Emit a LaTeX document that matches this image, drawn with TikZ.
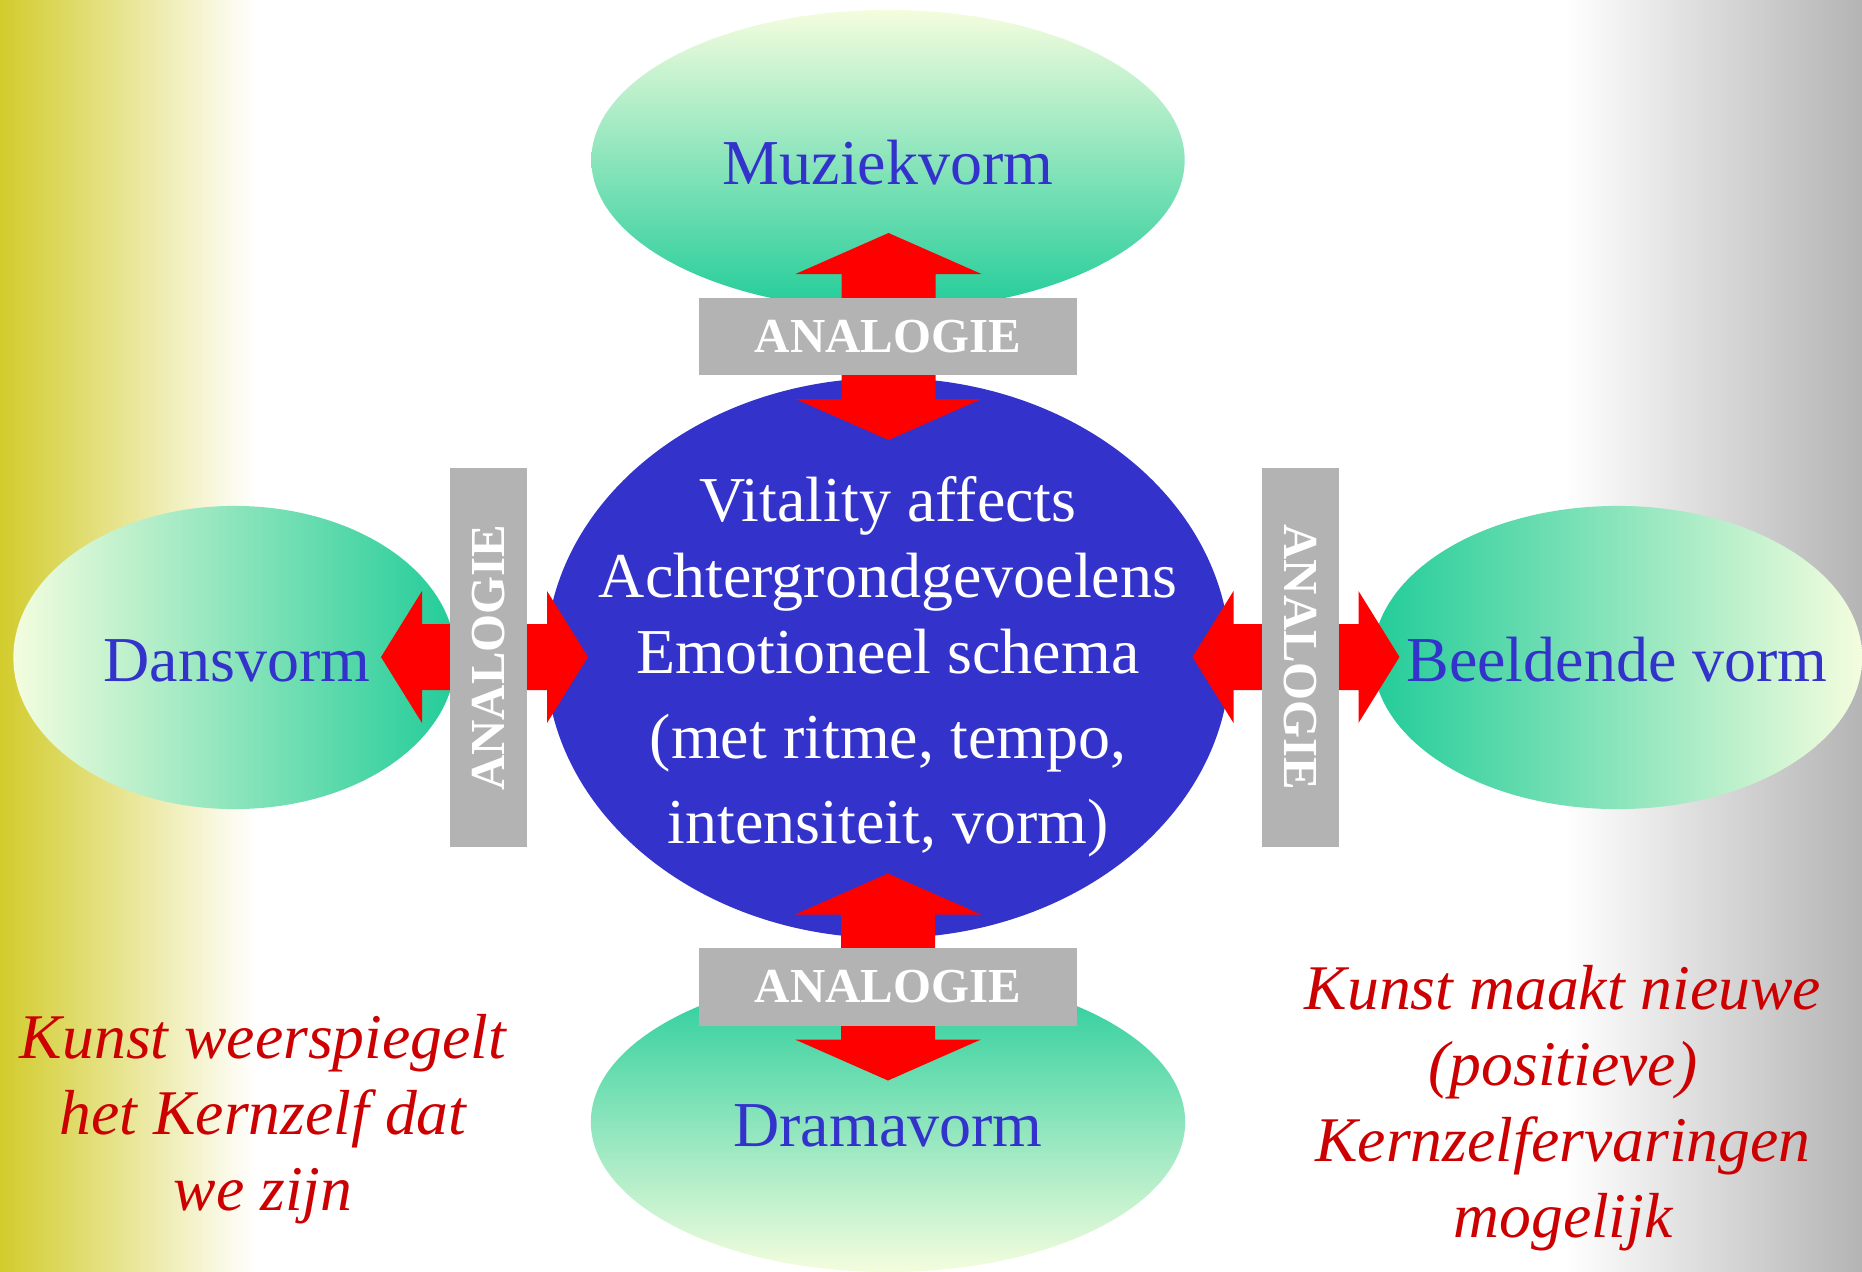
\documentclass[tikz,border=0pt]{standalone}
\usepackage{fontspec}
\setmainfont{Liberation Serif}
\usepackage{tikz}
\usetikzlibrary{shapes.geometric}
\usetikzlibrary{positioning}

\definecolor{kernblue}{RGB}{51,51,204}
\definecolor{vormgreen}{RGB}{34,204,153}
\definecolor{vormlight}{RGB}{244,253,222}
\definecolor{boxgray}{RGB}{179,179,179}
\definecolor{tekstred}{RGB}{204,0,0}
\definecolor{bgyellow}{RGB}{210,204,44}
\definecolor{bggray}{RGB}{180,180,180}

\begin{document}
\begin{tikzpicture}
		[
		x=0.01cm, y=-0.01cm,
		vorm/.style={ellipse, inner sep=0, draw=none},
		vorm text/.style={anchor=base, text=kernblue, font=\fontsize{18.2pt}{21.6pt}\selectfont},
		analogie/.style={fill=boxgray, inner sep=0, minimum width=3.78cm, minimum height=0.77cm, text=white, font=\fontsize{13.9pt}{16pt}\selectfont\bfseries},
		pijl/.style={fill=red},
		kunst text/.style={anchor=base, align=center, text=tekstred, font=\fontsize{18.1pt}{21.6pt}\selectfont\itshape}
		]
		
		% Page and side shading
		\useasboundingbox (0,0) rectangle (1862,1272);
		\shade[left color=bgyellow, middle color=bgyellow!35!white, right color=white] (0,0) rectangle (255,1272);
		\shade[left color=white, right color=bggray] (1565,0) rectangle (1862,1272);
		
		% The four art forms and the core
		\node[vorm, minimum width=5.93cm, minimum height=3cm, top color=vormlight, middle color=vormgreen!35!vormlight, bottom color=vormgreen] (muziek) at (888,160) {};
		\node[vorm, minimum width=4.42cm, minimum height=3.03cm, left color=vormlight, middle color=vormgreen!35!vormlight, right color=vormgreen] (dans) at (234.5,657.5) {};
		\node[vorm, minimum width=4.89cm, minimum height=3.03cm, left color=vormgreen, middle color=vormgreen!35!vormlight, right color=vormlight] (beeld) at (1617.5,657.5) {};
		\node[vorm, minimum width=5.94cm, minimum height=3cm, top color=vormgreen, middle color=vormgreen!35!vormlight, bottom color=vormlight] (drama) at (888,1122) {};
		\node[vorm, minimum width=6.84cm, minimum height=5.6cm, fill=kernblue] (kern) at (888,658) {};
		
		% Double arrows
		\coordinate (ptop) at (888.5,336.5);
		\coordinate (pbot) at (888,977);
		\coordinate (pleft) at (484.5,657);
		\coordinate (pright) at (1296,657);
		\foreach \p in {ptop,pbot}
			\fill[pijl, shift={(\p)}] (0,-103.5) -- (93,-62.5) -- (47,-62.5) -- (47,62.5) -- (93,62.5) -- (0,103.5) -- (-93,62.5) -- (-47,62.5) -- (-47,-62.5) -- (-93,-62.5) -- cycle;
		\foreach \p in {pleft,pright}
			\fill[pijl, shift={(\p)}] (-103.5,0) -- (-62.5,-66) -- (-62.5,-33) -- (62.5,-33) -- (62.5,-66) -- (103.5,0) -- (62.5,66) -- (62.5,33) -- (-62.5,33) -- (-62.5,66) -- cycle;
		
		% Analogie boxes
		\node[analogie] (atop) at (888,336.5) {ANALOGIE};
		\node[analogie] (abot) at (888,987) {ANALOGIE};
		\node[analogie, rotate=90] (aleft) at (488.5,657.5) {ANALOGIE};
		\node[analogie, rotate=-90] (aright) at (1300.5,657.5) {ANALOGIE};
		
		% Labels (base = last line)
		\node[vorm text] (muziektxt) at (888,184) {Muziekvorm};
		\node[vorm text] (danstxt) at (237,681) {Dansvorm};
		\node[vorm text] (beeldtxt) at (1617,681) {Beeldende vorm};
		\node[vorm text] (dramatxt) at (888,1146) {Dramavorm};
		\node[anchor=base, align=center, text=white, font=\fontsize{18.2pt}{21.6pt}\selectfont] (kerntxt) at (888,843)
			{Vitality affects\\Achtergrondgevoelens\\Emotioneel schema\\[0.09cm](met ritme, tempo,\\[0.09cm]intensiteit, vorm)};
		
		% Statements
		\node[kunst text] (spiegel) at (263,1210) {Kunst weerspiegelt\\het Kernzelf dat\\we zijn};
		\node[kunst text] (nieuw) at (1563,1237) {Kunst maakt nieuwe\\(positieve)\\Kernzelfervaringen\\mogelijk};
		
\end{tikzpicture}
\end{document}
